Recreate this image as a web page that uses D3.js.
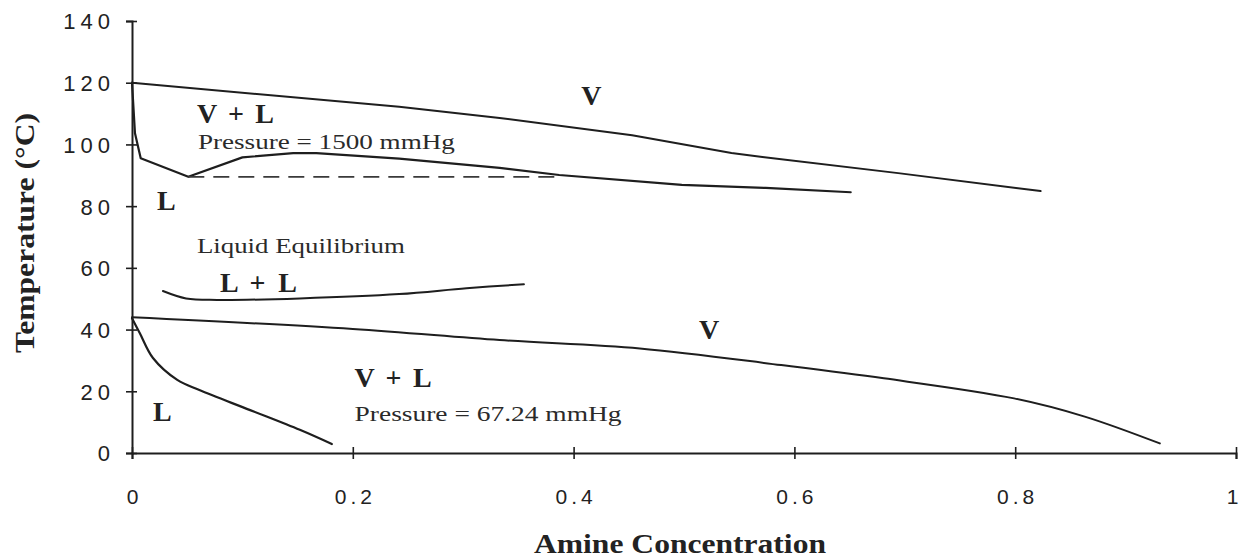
<!DOCTYPE html>
<html>
<head>
<meta charset="utf-8">
<script src="https://cdn.jsdelivr.net/npm/d3@7"></script>
<style>
  html, body { margin: 0; padding: 0; background: #fff; }
  svg { display: block; }
</style>
</head>
<body>
<svg id="chart" width="1243" height="560"></svg>
<script>
// ---- Data (x = amine concentration, t = temperature °C) ----
const xTicks = [0, 0.2, 0.4, 0.6, 0.8, 1];
const xTickLabels = ["0", "0.2", "0.4", "0.6", "0.8", "1"];
const yTicks = [0, 20, 40, 60, 80, 100, 120, 140];
const yTickLabels = ["0", "20", "40", "60", "80", "100", "120", "140"];

// Pressure = 1500 mmHg : dew (vapour) curve
const dew1500 = [
  [0, 120], [0.242, 112.2], [0.333, 108.6], [0.453, 103.0], [0.543, 97.2],
  [0.571, 95.9], [0.694, 90.7], [0.823, 84.9]
];
// Pressure = 1500 mmHg : bubble (liquid) curve
const bubble1500 = [
  [0, 120], [0.0027, 103.6], [0.0079, 95.5], [0.051, 89.5], [0.100, 95.8],
  [0.146, 97.2], [0.167, 97.2], [0.242, 95.4], [0.333, 92.4], [0.387, 90.1],
  [0.498, 86.9], [0.574, 85.9], [0.651, 84.5]
];
// three-phase (dashed) tie line at 1500 mmHg
const tieLine1500 = [[0.051, 89.5], [0.385, 89.5]];

// Liquid-liquid equilibrium curve
const liquidLiquid = [
  [0.028, 52.5], [0.049, 50.1], [0.077, 49.6], [0.152, 50.1],
  [0.242, 51.5], [0.303, 53.4], [0.355, 54.7]
];

// Pressure = 67.24 mmHg : dew (vapour) curve
const dew67 = [
  [0, 44.0], [0.2, 40.2], [0.333, 36.6], [0.460, 33.9], [0.588, 28.5],
  [0.681, 24.2], [0.799, 17.7], [0.863, 11.8], [0.931, 3.1]
];
// Pressure = 67.24 mmHg : bubble (liquid) curve
const bubble67 = [
  [0, 43.7], [0.007, 38.9], [0.019, 30.8], [0.041, 23.7], [0.061, 20.4],
  [0.107, 13.9], [0.152, 7.5], [0.181, 2.9]
];

// Region annotations (anchored in data units)
const boldLabels = [
  { text: "V + L", x: 0.0588, t: 106.9 },
  { text: "V",     x: 0.407,  t: 112.8 },
  { text: "L",     x: 0.0226, t: 78.7 },
  { text: "L + L", x: 0.0796, t: 52.2 },
  { text: "V",     x: 0.5136, t: 36.9 },
  { text: "V + L", x: 0.2016, t: 21.4 },
  { text: "L",     x: 0.019,  t: 10.4 }
];
const plainLabels = [
  { text: "Pressure = 1500 mmHg",  x: 0.0597, t: 98.5 },
  { text: "Liquid Equilibrium",    x: 0.0588, t: 64.8 },
  { text: "Pressure = 67.24 mmHg", x: 0.2016, t: 10.4 }
];
const xTitle = "Amine Concentration";
const yTitle = "Temperature (°C)";

// ---- Drawing ----
const svg = d3.select("#chart");
const x = d3.scaleLinear().domain([0, 1]).range([132, 1236]);
const y = d3.scaleLinear().domain([0, 140]).range([453, 21]);

const ink = "#1e1e1e";

// X axis
const xAxis = svg.append("g")
  .attr("transform", `translate(0,${y(0)})`)
  .call(d3.axisBottom(x).tickValues(xTicks)
    .tickFormat((d, i) => xTickLabels[i]).tickSizeOuter(0).tickSize(6));
xAxis.select(".domain").attr("stroke", ink).attr("stroke-width", 2);
xAxis.selectAll(".tick line").attr("y1", -6).attr("y2", 6)
  .attr("stroke", ink).attr("stroke-width", 1.6);
xAxis.selectAll(".tick text")
  .attr("y", 51).attr("dy", 0)
  .attr("dx", (d, i) => i === xTicks.length - 1 ? -4 : 2)
  .attr("fill", "#222")
  .style("font-family", "'Liberation Sans', Arial, sans-serif")
  .style("font-size", "21px")
  .style("letter-spacing", (d, i) => i === xTicks.length - 1 ? "0px" : "4px");

// Y axis
const yAxis = svg.append("g")
  .attr("transform", `translate(${x(0)},0)`)
  .call(d3.axisLeft(y).tickValues(yTicks)
    .tickFormat((d, i) => yTickLabels[i]).tickSizeOuter(0).tickSize(6));
yAxis.select(".domain").attr("stroke", ink).attr("stroke-width", 2);
yAxis.selectAll(".tick line").attr("x1", 5).attr("x2", -6)
  .attr("stroke", ink).attr("stroke-width", 1.6);
yAxis.selectAll(".tick text")
  .attr("x", -17).attr("dy", "0.36em")
  .attr("fill", "#222")
  .style("font-family", "'Liberation Sans', Arial, sans-serif")
  .style("font-size", "22px")
  .style("letter-spacing", "5px");

// Curves
const straight = d3.line().x(d => x(d[0])).y(d => y(d[1]));
const smoothCR = d3.line().x(d => x(d[0])).y(d => y(d[1])).curve(d3.curveCatmullRom.alpha(0.5));

const curves = svg.append("g").attr("fill", "none").attr("stroke", ink)
  .attr("stroke-linejoin", "round").attr("stroke-linecap", "round");

curves.append("path").attr("d", straight(dew1500)).attr("stroke-width", 2);
curves.append("path").attr("d", straight(bubble1500)).attr("stroke-width", 2.2);
curves.append("path").attr("d", straight(tieLine1500))
  .attr("stroke", "#3a3a3a").attr("stroke-width", 1.8)
  .attr("stroke-dasharray", "16,9").attr("stroke-linecap", "butt");
curves.append("path").attr("d", smoothCR(liquidLiquid)).attr("stroke-width", 2);
curves.append("path").attr("d", smoothCR(dew67)).attr("stroke-width", 2);
curves.append("path").attr("d", smoothCR(bubble67)).attr("stroke-width", 2.2);

// Region labels
svg.append("g").selectAll("text").data(boldLabels).join("text")
  .attr("x", d => x(d.x)).attr("y", d => y(d.t))
  .attr("fill", "#222")
  .style("font-family", "'Liberation Serif', 'Times New Roman', serif")
  .style("font-weight", "bold").style("font-size", "28px")
  .each(function (d) {
    if (d.text.length > 1) {
      d3.select(this).attr("textLength", 77).attr("lengthAdjust", "spacing");
    }
  })
  .text(d => d.text);

const plainLen = { "Pressure = 1500 mmHg": 257, "Liquid Equilibrium": 208, "Pressure = 67.24 mmHg": 267 };
svg.append("g").selectAll("text").data(plainLabels).join("text")
  .attr("x", d => x(d.x)).attr("y", d => y(d.t))
  .attr("fill", "#2a2a2a")
  .style("font-family", "'Liberation Serif', 'Times New Roman', serif")
  .style("font-size", "21px")
  .attr("textLength", d => plainLen[d.text])
  .attr("lengthAdjust", "spacingAndGlyphs")
  .text(d => d.text);

// Axis titles
svg.append("text")
  .attr("x", (x(0) + x(1)) / 2 - 4).attr("y", 553)
  .attr("text-anchor", "middle")
  .attr("fill", "#222")
  .style("font-family", "'Liberation Serif', 'Times New Roman', serif")
  .style("font-weight", "bold").style("font-size", "27px")
  .attr("textLength", 292).attr("lengthAdjust", "spacingAndGlyphs")
  .text(xTitle);

svg.append("text")
  .attr("transform", "translate(34,233) rotate(-90)")
  .attr("text-anchor", "middle")
  .attr("fill", "#222")
  .style("font-family", "'Liberation Serif', 'Times New Roman', serif")
  .style("font-weight", "bold").style("font-size", "28px")
  .attr("textLength", 240).attr("lengthAdjust", "spacingAndGlyphs")
  .text(yTitle);
</script>
</body>
</html>
